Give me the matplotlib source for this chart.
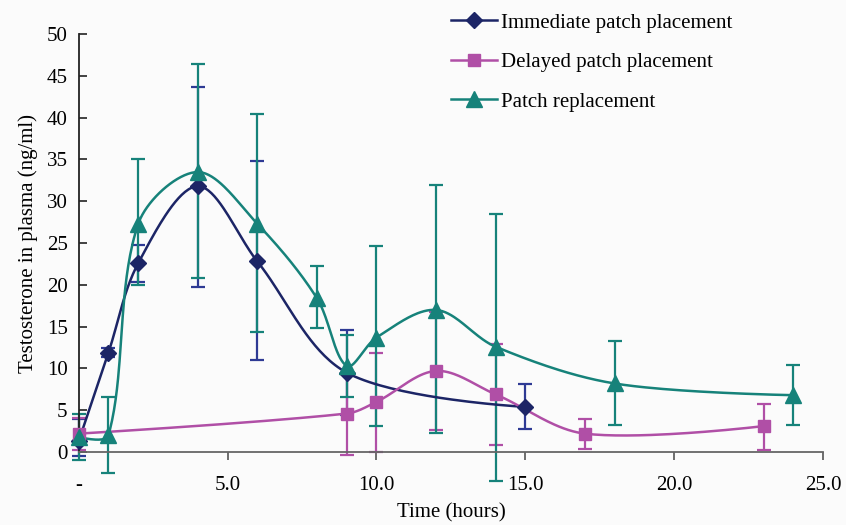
import matplotlib.pyplot as plt
import numpy as np

# data
imm_t = [0, 1, 2, 4, 6, 9, 15]
imm_v = [1.3, 11.9, 22.6, 31.8, 22.8, 9.5, 5.4]
imm_hi = [4.0, 12.4, 24.8, 43.7, 34.8, 14.6, 8.1]
imm_lo = [-0.5, 11.4, 20.3, 19.8, 11.0, 4.4, 2.7]

del_t = [0, 9, 10, 12, 14, 17, 23]
del_v = [2.2, 4.6, 6.0, 9.7, 6.9, 2.2, 3.1]
del_hi = [4.1, 9.5, 11.9, 16.7, 12.9, 4.0, 5.8]
del_lo = [0.3, -0.3, 0.0, 2.6, 0.8, 0.4, 0.2]

rep_t = [0, 1, 2, 4, 6, 8, 9, 10, 12, 14, 18, 24]
rep_v = [1.8, 2.0, 27.3, 33.5, 27.3, 18.4, 10.3, 13.7, 17.0, 12.6, 8.2, 6.8]
rep_hi = [4.6, 6.6, 35.0, 46.4, 40.4, 22.3, 14.0, 24.6, 31.9, 28.5, 13.3, 10.4]
rep_lo = [-1.0, -2.5, 20.0, 20.8, 14.4, 14.8, 6.6, 3.1, 2.3, -3.5, 3.2, 3.2]

x_ticks = [0, 5, 10, 15, 20, 25]
x_labels = ['-', '5.0', '10.0', '15.0', '20.0', '25.0']

# axes box in figure fractions
AX = [0.093, 0.139, 0.880, 0.796]
W, H = 846, 525


def smooth(x, y, n=40):
    # smoothed line, control arms proportional to segment length (screen space)
    kx = AX[2] * W / 25.0
    ky = AX[3] * H / 50.0
    p = np.column_stack([np.asarray(x, float) * kx, np.asarray(y, float) * ky])
    m = len(p)
    out = []
    for i in range(m - 1):
        p1, p2 = p[i], p[i + 1]
        p0 = p[i - 1] if i > 0 else p1
        p3 = p[i + 2] if i + 2 < m else p2
        d01 = np.hypot(*(p1 - p0))
        d12 = np.hypot(*(p2 - p1))
        d23 = np.hypot(*(p3 - p2))
        c1 = p1 + (p2 - p0) * (d12 / (d01 + d12) / 3 if d01 > 0 else 0)
        c2 = p2 - (p3 - p1) * (d12 / (d12 + d23) / 3 if d23 > 0 else 0)
        t = np.linspace(0, 1, n)[:, None]
        b = (1 - t) ** 3 * p1 + 3 * (1 - t) ** 2 * t * c1 + 3 * (1 - t) * t ** 2 * c2 + t ** 3 * p2
        out.append(b)
    b = np.vstack(out)
    return b[:, 0] / kx, b[:, 1] / ky


plt.rcParams['font.family'] = ['Liberation Serif', 'DejaVu Serif']

fig = plt.figure(figsize=(8.46, 5.25), dpi=100, facecolor='#fbfbfb')
ax = fig.add_axes(AX)
ax.set_facecolor('#fbfbfb')

series = [
    (imm_t, imm_v, imm_hi, imm_lo, '#1c2566', '#2e3a94', 'D', 8, 'Immediate patch placement'),
    (del_t, del_v, del_hi, del_lo, '#b04fa6', '#b04fa6', 's', 9, 'Delayed patch placement'),
    (rep_t, rep_v, rep_hi, rep_lo, '#16827a', '#16827a', '^', 11, 'Patch replacement'),
]

for t, v, hi, lo, col, ecol, mk, ms, lab in series:
    v = np.array(v)
    yerr = [v - np.array(lo), np.array(hi) - v]
    ax.errorbar(t, v, yerr=yerr, fmt='none', ecolor=ecol, elinewidth=1.6,
                capsize=5, capthick=1.6, zorder=2, clip_on=False)
    sx, sy = smooth(t, v)
    ax.plot(sx, sy, color=col, lw=1.8, zorder=3, clip_on=False)
    ax.plot(t, v, linestyle='none', marker=mk, ms=ms, color=col, zorder=4, clip_on=False)
    ax.plot([], [], color=col, lw=1.8, marker=mk, ms=ms, label=lab)

ax.set_xlim(0, 25)
ax.set_ylim(0, 50)
ax.set_xticks(x_ticks)
ax.set_xticklabels(x_labels)
ax.set_yticks(range(0, 51, 5))
ax.tick_params(axis='x', direction='out', length=6, width=1.2, color='#555555',
               labelsize=15, pad=11)
ax.tick_params(axis='y', direction='in', length=6, width=1.2, color='#222222',
               labelsize=15, pad=8)
for s in ['top', 'right']:
    ax.spines[s].set_visible(False)
ax.spines['left'].set_color('#222222')
ax.spines['left'].set_linewidth(1.3)
ax.spines['bottom'].set_color('#666666')
ax.spines['bottom'].set_linewidth(1.3)

ax.set_xlabel('Time (hours)', fontsize=15, labelpad=6)
ax.set_ylabel('Testosterone in plasma (ng/ml)', fontsize=15, labelpad=6)

leg = ax.legend(loc='upper left', bbox_to_anchor=(0.475, 1.095), frameon=False,
                fontsize=15, handlelength=2.2, labelspacing=0.95, handletextpad=0.2)

fig.savefig('out.png', dpi=100, facecolor=fig.get_facecolor())
